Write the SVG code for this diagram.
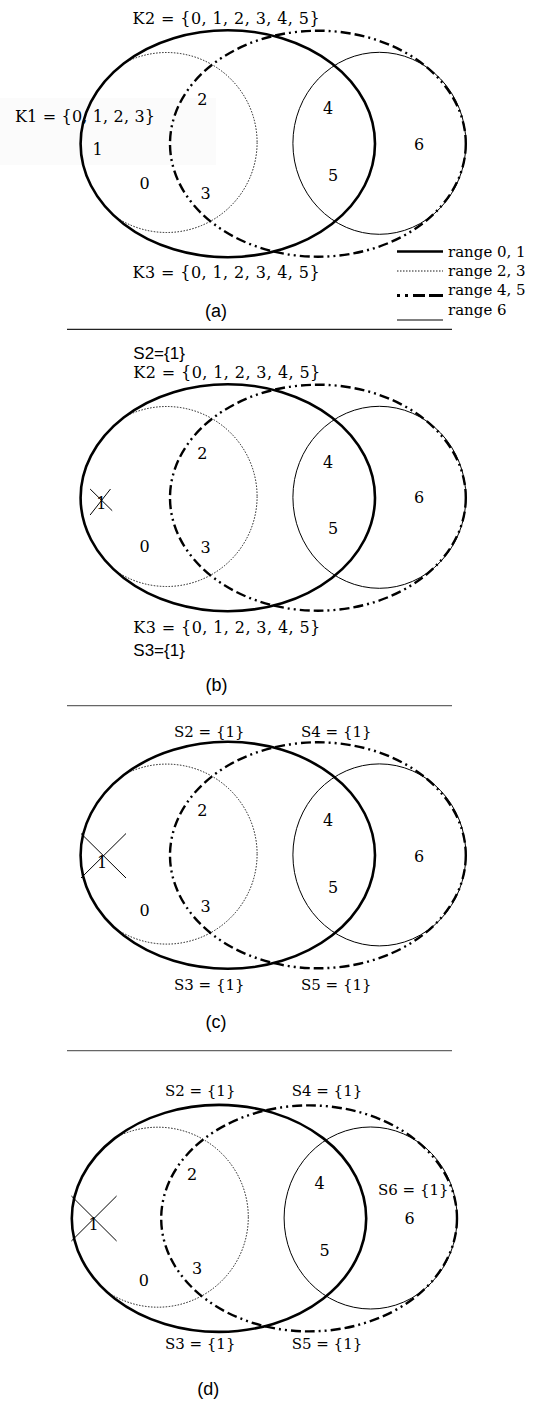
<svg xmlns="http://www.w3.org/2000/svg" xmlns:xlink="http://www.w3.org/1999/xlink" width="533" height="1402" viewBox="0 0 533 1402">
<style>
.r01{fill:none;stroke:#000;stroke-width:2.6}
.r23{fill:none;stroke:#000;stroke-width:0.9;stroke-dasharray:1.5 1.5}
.r45{fill:none;stroke:#000;stroke-width:2.4;stroke-dasharray:10 4 10 4 2 4 2 4}
.r6{fill:none;stroke:#000;stroke-width:1}
.num{font-family:"DejaVu Serif",serif;font-size:16px;text-anchor:middle;fill:#000}
.lab{font-family:"DejaVu Serif",serif;font-size:16px;fill:#000}
.s{font-family:"DejaVu Serif",serif;font-size:15px;fill:#000}
.sans{font-family:"Liberation Sans",Arial,sans-serif;font-size:17px;fill:#000}
.leg{font-family:"DejaVu Serif",serif;font-size:15px;fill:#000}
.cap{font-family:"Liberation Sans",Arial,sans-serif;font-size:18px;text-anchor:middle;fill:#000}
.x{stroke:#000;stroke-width:1}
.sep{stroke-width:1.3}
</style>
<defs>
<clipPath id="inK"><ellipse cx="227.8" cy="143.7" rx="146" ry="112.4"/></clipPath>
<g id="venn">
<ellipse class="r23" cx="166.6" cy="142.5" rx="90.5" ry="90" clip-path="url(#inK)"/>
<ellipse class="r6" cx="379.4" cy="143.3" rx="86.5" ry="91"/>
<ellipse class="r45" cx="317.9" cy="143.7" rx="147.9" ry="113"/>
<ellipse class="r01" cx="227.8" cy="143.7" rx="147.2" ry="113.5"/>
</g>
</defs>
<rect x="0" y="98" width="216" height="67" fill="#fbfbfb"/>
<g id="panel-a">
<use xlink:href="#venn" href="#venn"/>
<g id="a-labels">
<text class="lab" x="132.6" y="24" textLength="187">K2 = {0, 1, 2, 3, 4, 5}</text>
<text class="lab" x="15" y="121.7" textLength="140">K1 = {0, 1, 2, 3}</text>
<text class="lab" x="132.6" y="278" textLength="187">K3 = {0, 1, 2, 3, 4, 5}</text>
</g>
<g id="a-nums">
<text class="num" x="202.3" y="105.1">2</text>
<text class="num" x="328" y="114.1">4</text>
<text class="num" x="419.2" y="149.8">6</text>
<text class="num" x="97.5" y="155">1</text>
<text class="num" x="144.5" y="189.1">0</text>
<text class="num" x="205.7" y="199.1">3</text>
<text class="num" x="333.2" y="180.8">5</text>
</g>
<g id="legend">
<line class="r01" x1="397" y1="251.5" x2="443" y2="251.5"/>
<line class="r23" x1="397" y1="271" x2="443" y2="271"/>
<line x1="397" y1="295.5" x2="443" y2="295.5" stroke="#000" stroke-width="3.2" stroke-dasharray="3 5 3 5 12 4 14 100"/>
<line class="r6" x1="397" y1="320" x2="443" y2="320"/>
<text class="leg" x="448" y="256.5">range 0, 1</text>
<text class="leg" x="448" y="276">range 2, 3</text>
<text class="leg" x="448" y="295">range 4, 5</text>
<text class="leg" x="448" y="314.5">range 6</text>
</g>
<text class="cap" x="216" y="317">(a)</text>
</g>
<line class="sep" x1="67" y1="329.3" x2="452" y2="329.3" stroke="#222"/>
<g id="panel-b">
<use xlink:href="#venn" href="#venn" transform="translate(0,354)"/>
<g id="b-labels">
<text class="sans" x="133.3" y="359">S2={1}</text>
<text class="lab" x="133.3" y="377.5" textLength="187">K2 = {0, 1, 2, 3, 4, 5}</text>
<text class="lab" x="133.3" y="632.5" textLength="187">K3 = {0, 1, 2, 3, 4, 5}</text>
<text class="sans" x="133.3" y="656">S3={1}</text>
</g>
<g id="b-nums">
<text class="num" x="202.3" y="458.5">2</text>
<text class="num" x="328" y="467.5">4</text>
<text class="num" x="419.2" y="502.5">6</text>
<text class="num" x="101.3" y="509.1">1</text>
<text class="num" x="144.5" y="551.8">0</text>
<text class="num" x="205.7" y="552.5">3</text>
<text class="num" x="333.2" y="534.1">5</text>
</g>
<g id="b-cross">
<line class="x" x1="90.1" y1="489" x2="112.2" y2="510.7"/>
<line class="x" x1="90.1" y1="515" x2="110.5" y2="489"/>
</g>
<text class="cap" x="216.6" y="691">(b)</text>
</g>
<line class="sep" x1="67" y1="705.7" x2="452" y2="705.7" stroke="#666"/>
<g id="panel-c">
<use xlink:href="#venn" href="#venn" transform="translate(0,711.6)"/>
<g id="c-labels">
<text class="s" x="174" y="736.5">S2 = {1}</text>
<text class="s" x="301" y="736.5">S4 = {1}</text>
<text class="s" x="174" y="990">S3 = {1}</text>
<text class="s" x="301" y="990">S5 = {1}</text>
</g>
<g id="c-nums">
<text class="num" x="202.3" y="815.8">2</text>
<text class="num" x="328" y="825.8">4</text>
<text class="num" x="419.2" y="861.5">6</text>
<text class="num" x="102" y="867.5">1</text>
<text class="num" x="144.5" y="915.8">0</text>
<text class="num" x="205.7" y="911.8">3</text>
<text class="num" x="333.2" y="892.5">5</text>
</g>
<g id="c-cross">
<line class="x" x1="81" y1="833.5" x2="126" y2="878"/>
<line class="x" x1="81" y1="878" x2="126" y2="833.5"/>
</g>
<text class="cap" x="216" y="1027.5">(c)</text>
</g>
<line class="sep" x1="67" y1="1050.7" x2="452" y2="1050.7" stroke="#666"/>
<g id="panel-d">
<use xlink:href="#venn" href="#venn" transform="translate(-8.8,1074.7)"/>
<g id="d-labels">
<text class="s" x="164.9" y="1095.8">S2 = {1}</text>
<text class="s" x="291.7" y="1095.8">S4 = {1}</text>
<text class="s" x="378" y="1195">S6 = {1}</text>
<text class="s" x="164.9" y="1348.5">S3 = {1}</text>
<text class="s" x="291.7" y="1348.5">S5 = {1}</text>
</g>
<g id="d-nums">
<text class="num" x="192.1" y="1180.1">2</text>
<text class="num" x="319.6" y="1188.5">4</text>
<text class="num" x="409.7" y="1224.1">6</text>
<text class="num" x="93.5" y="1229.8">1</text>
<text class="num" x="143.8" y="1285.8">0</text>
<text class="num" x="197.2" y="1274.1">3</text>
<text class="num" x="324.7" y="1255.8">5</text>
</g>
<g id="d-cross">
<line class="x" x1="71.4" y1="1196" x2="116.6" y2="1241"/>
<line class="x" x1="71.4" y1="1241" x2="116.6" y2="1196"/>
</g>
<text class="cap" x="208.2" y="1394.5">(d)</text>
</g>
</svg>
